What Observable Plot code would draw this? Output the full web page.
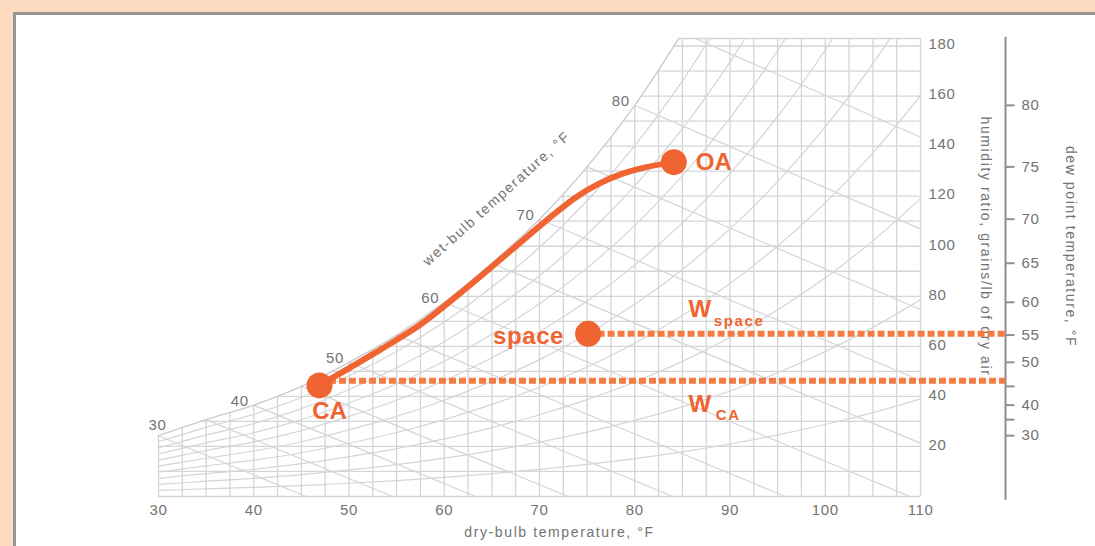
<!DOCTYPE html>
<html><head><meta charset="utf-8">
<script src="https://cdn.jsdelivr.net/npm/d3@7"></script>
<script src="https://cdn.jsdelivr.net/npm/@observablehq/plot@0.6"></script>
<style>
html,body{margin:0;padding:0;overflow:hidden;background:#fddbc0;font-family:"Liberation Sans",Arial,sans-serif;}
#panel{position:absolute;left:13px;top:12px;width:3000px;height:3000px;background:#fff;border-left:3px solid #979797;border-top:3px solid #979797;box-sizing:border-box;}
#chart{position:absolute;left:0;top:0;width:1095px;height:546px;overflow:hidden;}
#chart svg{display:block;}
.ttl text{letter-spacing:1.6px;}
.tk text{letter-spacing:0.6px;}
</style></head><body><div id="panel"></div><div id="chart"></div>
<script>
// saturation curve (dry-bulb °F -> humidity ratio, grains/lb)
const satT = [30, 35, 40, 45, 50, 55, 60, 65, 70, 75, 80, 85, 90, 95, 100, 105, 110];
const satW = [24.3, 30.7, 36.5, 44.0, 53.6, 64.5, 77.6, 93.2, 110.8, 131.7, 156.3, 185.3, 219.3, 259.1, 305.7, 360.2, 423.8];
// wet-bulb lines: start on saturation, end points
const wbTemps = [30, 35, 40, 45, 50, 55, 60, 65, 70, 75, 80, 85];
const wbEndT = [45.5, 54.6, 63.3, 73.0, 84.0, 95.8, 108.9, 110, 110, 110, 110, 110];
const wbEndW = [0, 0, 0, 0, 0, 0, 0, 21.3, 46.3, 74.7, 106.9, 143.6];
const wbLabels = [30, 40, 50, 60, 70, 80];
// relative humidity curves (%)
const rhLevels = [10, 20, 30, 40, 50, 60, 70, 80, 90];
// ticks
const xTicks = [30, 40, 50, 60, 70, 80, 90, 100, 110];
const yTicks = [20, 40, 60, 80, 100, 120, 140, 160, 180];
const dewTicks = [30, 35, 40, 45, 50, 55, 60, 65, 70, 75, 80];
const dewLabels = [30, 40, 50, 55, 60, 65, 70, 75, 80];
// states
const pointNames = ["CA", "space", "OA"];
const pointT = [46.9, 75.1, 84.1];
const pointW = [44.4, 65.0, 133.6];
// process curve CA -> OA
const procT = [46.9, 48.3, 53.3, 57.5, 62.4, 67.0, 71.5, 73.8, 76.1, 78.5, 81.1, 84.1];
const procW = [44.4, 47.5, 58.7, 68.7, 83.5, 98.3, 112.7, 119.5, 124.7, 128.7, 131.5, 133.6];
// humidity ratio lines
const wSpace = 65.0;
const wCA = 46.2;

const ORANGE = "#ef6431";
const DASH = "#f47b42";
const GRID = "#d3d5d8";
const TXT = "#737373";
const TOP = 183;
const pxPerDeg = (920 - 158) / 80;
const dewAxisT = 110 + 85 / pxPerDeg;

const sat = satT.map((t, i) => ({t, w: satW[i]}));
const satVis = sat.filter(d => d.t <= 85);
const wsat = t => {
  for (let i = 0; i < satT.length - 1; i++) {
    if (t >= satT[i] && t <= satT[i + 1]) return satW[i] + (satW[i + 1] - satW[i]) * (t - satT[i]) / (satT[i + 1] - satT[i]);
  }
  return satW[satW.length - 1];
};
const tsat = w => {
  if (w <= satW[0]) return satT[0];
  for (let i = 0; i < satW.length - 1; i++) {
    if (w >= satW[i] && w <= satW[i + 1]) return satT[i] + (satT[i + 1] - satT[i]) * (w - satW[i]) / (satW[i + 1] - satW[i]);
  }
  return satT[satT.length - 1];
};
const rhCurves = rhLevels.flatMap(rh => satT.map((t, i) => {
  const ws = satW[i] / 7000, x = ws / (0.622 + ws), p = rh / 100;
  return {rh, t, w: 7000 * 0.622 * p * x / (1 - p * x)};
}));
const wb = wbTemps.map((t, i) => ({t, w0: wsat(t), t1: wbEndT[i], w1: wbEndW[i]}));
const pts = pointNames.map((n, i) => ({n, t: pointT[i], w: pointW[i]}));
const proc = procT.map((t, i) => ({t, w: procW[i]}));
const gridLinesX = d3.range(30, 110.01, 2.5);
const gridLinesY = d3.range(0, 180.01, 10).concat([TOP]);

const chart = Plot.plot({
  width: 1095, height: 546,
  marginLeft: 158, marginRight: 175, marginTop: 38, marginBottom: 50,
  x: {domain: [30, 110], axis: null},
  y: {domain: [0, TOP], axis: null},
  style: {background: "transparent", fontFamily: "Liberation Sans, Arial, sans-serif", fontSize: "15px"},
  marks: [
    Plot.ruleX(gridLinesX, {x: d => d, y1: 0, y2: d => Math.min(wsat(d), TOP), stroke: GRID, strokeWidth: 1.3}),
    Plot.ruleY(gridLinesY, {y: d => d, x1: d => tsat(d), x2: 110, stroke: GRID, strokeWidth: 1.3}),
    Plot.line(rhCurves, {x: "t", y: "w", z: "rh", stroke: GRID, strokeWidth: 1.2, curve: "catmull-rom", clip: true}),
    Plot.link(wb, {x1: "t", y1: "w0", x2: "t1", y2: "w1", stroke: GRID, strokeWidth: 1.2, clip: true}),
    // mask above saturation
    Plot.areaY(satVis, {x: "t", y1: "w", y2: 200, fill: "white", curve: "catmull-rom", clip: true}),
    Plot.line(satVis, {x: "t", y: "w", stroke: "#c9cbce", strokeWidth: 1.4, curve: "catmull-rom", clip: true}),
    // axes
    Plot.axisX(xTicks, {tickSize: 0, tickPadding: 8, fontSize: 15, color: TXT, label: null, className: "tk"}),
    Plot.axisY(yTicks, {anchor: "right", tickSize: 0, tickPadding: 8, textAnchor: "start", dy: -1.5, fontSize: 15, color: TXT, label: null, className: "tk"}),
    Plot.text(["dry-bulb temperature, °F"], {frameAnchor: "bottom", dx: 20, dy: 40, fill: TXT, fontSize: 14, className: "ttl"}),
    Plot.text(["humidity ratio, grains/lb of dry air"], {frameAnchor: "right", dx: 65, dy: -21, rotate: 90, textAnchor: "middle", fill: TXT, fontSize: 14, className: "ttl"}),
    Plot.text(["dew point temperature, °F"], {frameAnchor: "right", dx: 150, dy: -21, rotate: 90, textAnchor: "middle", fill: TXT, fontSize: 14, className: "ttl"}),
    Plot.text(["wet-bulb temperature, °F"], {x: 65.5, y: 119, rotate: -42, fill: TXT, fontSize: 14, className: "ttl"}),
    // wet-bulb labels
    Plot.text(wbLabels.filter(d => d > 30), {x: d => d, y: d => wsat(d), dx: -5, dy: -4, textAnchor: "end", fill: TXT, fontSize: 15, className: "tk"}),
    Plot.text([30], {x: d => d, y: d => wsat(d), dx: -1, dy: -10, fill: TXT, fontSize: 15, className: "tk"}),
    // dew point axis
    Plot.ruleX([110], {y1: -1.5, y2: TOP + 0.5, dx: 85, stroke: "#8e8e8e", strokeWidth: 2}),
    Plot.ruleY(dewTicks, {y: d => wsat(d), x1: 110, x2: 111, dx: 85, stroke: "#8e8e8e", strokeWidth: 2}),
    Plot.text(dewLabels, {y: d => wsat(d), x: 110, dx: 101, textAnchor: "start", fill: TXT, fontSize: 15, className: "tk"}),
    // process
    Plot.ruleY([wSpace], {x1: pointT[1], x2: dewAxisT, stroke: DASH, strokeWidth: 6, strokeDasharray: "7,3"}),
    Plot.ruleY([wCA], {x1: pointT[0], x2: dewAxisT, stroke: DASH, strokeWidth: 6, strokeDasharray: "7,3"}),
    Plot.line(proc, {x: "t", y: "w", stroke: ORANGE, strokeWidth: 6, curve: "catmull-rom"}),
    Plot.dot(pts, {x: "t", y: "w", r: 13, fill: ORANGE}),
    Plot.text(pts.filter(d => d.n === "OA"), {x: "t", y: "w", text: "n", dx: 22, textAnchor: "start", fill: ORANGE, fontSize: 24, fontWeight: "bold"}),
    Plot.text(pts.filter(d => d.n === "CA"), {x: "t", y: "w", text: "n", dx: 10, dy: 26, fill: ORANGE, fontSize: 24, fontWeight: "bold"}),
    Plot.text(pts.filter(d => d.n === "space"), {x: "t", y: "w", text: "n", dx: -24, dy: 2, textAnchor: "end", fill: ORANGE, fontSize: 24, fontWeight: "bold", className: "tk"}),
    Plot.text(["W"], {x: 85.65, y: wSpace, dy: -25, textAnchor: "start", fill: ORANGE, fontSize: 24, fontWeight: "bold"}),
    Plot.text(["space"], {x: 88.3, y: wSpace, dy: -13, textAnchor: "start", fill: ORANGE, fontSize: 15, fontWeight: "bold", className: "ttl"}),
    Plot.text(["W"], {x: 85.65, y: wCA, dy: 23, textAnchor: "start", fill: ORANGE, fontSize: 24, fontWeight: "bold"}),
    Plot.text(["CA"], {x: 88.5, y: wCA, dy: 34, textAnchor: "start", fill: ORANGE, fontSize: 15, fontWeight: "bold", className: "ttl"})
  ]
});
document.getElementById("chart").appendChild(chart);
</script></body></html>
